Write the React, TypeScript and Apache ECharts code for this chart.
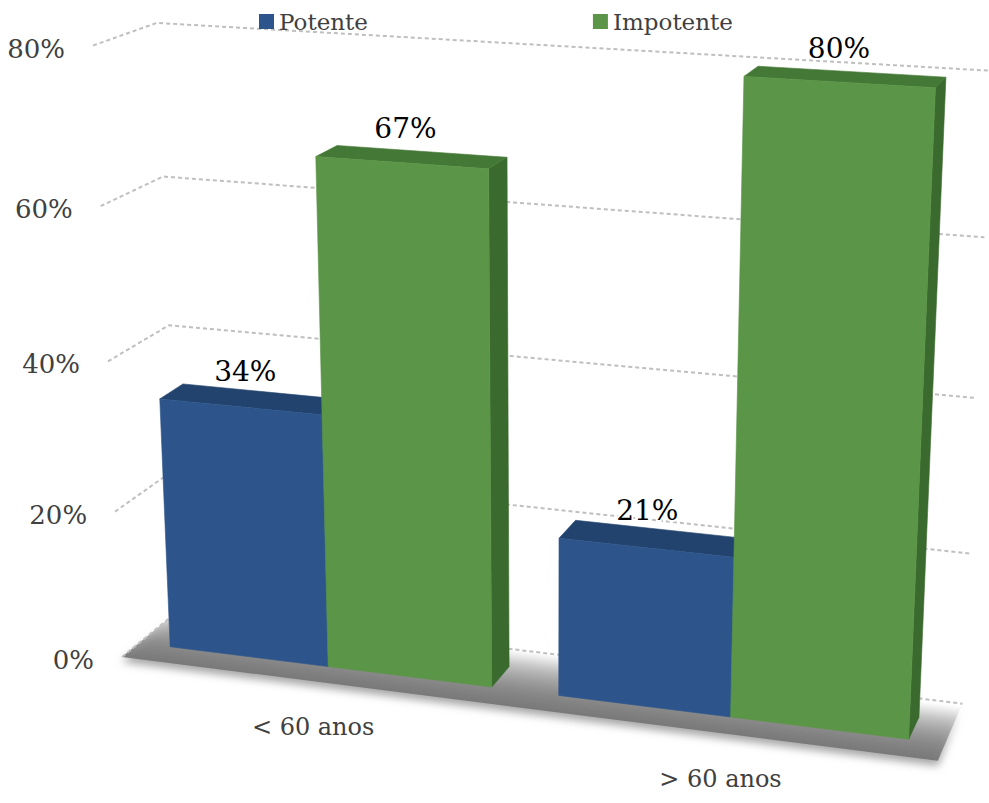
import React, { useEffect, useRef } from 'react';
import * as echarts from 'echarts';

// ---- data ----
const categories = ['< 60 anos', '> 60 anos'];
const seriesNames = ['Potente', 'Impotente'];
const potenteValues = [34, 21];
const impotenteValues = [67, 80];
const valueTicks = [0, 20, 40, 60, 80];

const WIDTH = 989;
const HEIGHT = 803;
const FONT = 'DejaVu Serif';
const TEXT_GREY = '#404040';

// Hidden cartesian grid: it holds the data scales; its pixel coordinates are
// turned into scene units (categories along X, percent along Y).
const GRID = { left: 0, top: 0, width: 200, height: 400 };
const Y_MAX = valueTicks[valueTicks.length - 1];

// Perspective camera, written as the vanishing points of the three scene axes,
// the image of the scene origin (front-left corner of the floor) and a scale per axis.
const VP_X = [-9000, -502];
const VP_Y = [545, 9600];
const VP_Z = [1458, -439];
const ORIGIN = [122, 657];
const SX = -0.041045; // per category
const SY = -0.0008; // per percent
const SZ = 0.04576; // per depth unit (0 = front of floor, 1 = back wall)

// column geometry in scene units
const BAR_W = 1 / 2.4; // two columns and a 40% gap per category
const Z_FRONT = 0.285;
const Z_BACK = 0.675;

const palettes = [
  { front: '#2D558C', top: '#22436D', side: '#1E3B61' },
  { front: '#5B9547', top: '#447836', side: '#3A6A2E' },
];

function project(X: number, Y: number, Z: number): number[] {
  const ax = SX * X;
  const by = SY * Y;
  const cz = SZ * Z;
  const w = ax + by + cz + 1;
  return [
    (ax * VP_X[0] + by * VP_Y[0] + cz * VP_Z[0] + ORIGIN[0]) / w,
    (ax * VP_X[1] + by * VP_Y[1] + cz * VP_Z[1] + ORIGIN[1]) / w,
  ];
}

function sceneX(api: any, cat: number): number {
  const p = api.coord([cat, 0]);
  return (p[0] - GRID.left) / (GRID.width / categories.length);
}

function sceneY(api: any, cat: number, v: number): number {
  const p = api.coord([cat, v]);
  const p0 = api.coord([cat, 0]);
  return ((p0[1] - p[1]) / GRID.height) * Y_MAX;
}

function floorRenderer(_params: any, _api: any) {
  const n = categories.length;
  const fl = project(0, 0, 0);
  const fr = project(n, 0, 0);
  const pts = [fl, fr, project(n, 0, 1), project(0, 0, 1)];
  // shade runs from the back edge towards the front edge, perpendicular to the front edge
  const back = project(n / 2, 0, 1);
  const dx = fr[0] - fl[0];
  const dy = fr[1] - fl[1];
  const len = Math.hypot(dx, dy);
  const nx = -dy / len;
  const ny = dx / len;
  const dist = (fl[0] - back[0]) * nx + (fl[1] - back[1]) * ny;
  const end = [back[0] + nx * dist, back[1] + ny * dist];
  const fill = new echarts.graphic.LinearGradient(
    back[0],
    back[1],
    end[0],
    end[1],
    [
      { offset: 0, color: 'rgba(128,128,128,0)' },
      { offset: 0.25, color: 'rgba(128,128,128,0.32)' },
      { offset: 0.7, color: 'rgba(125,125,125,0.78)' },
      { offset: 1, color: 'rgba(118,118,118,0.95)' },
    ],
    true
  );
  return {
    type: 'polygon',
    shape: { points: pts },
    style: {
      fill,
      shadowBlur: 9,
      shadowOffsetY: 5,
      shadowColor: 'rgba(120,120,120,0.75)',
    },
  };
}

function textStyle(text: string, size: number, color: string, align: string) {
  return {
    text,
    fill: color,
    fontFamily: FONT,
    fontSize: size,
    align,
    verticalAlign: 'middle',
  };
}

function gridRenderer(_params: any, api: any) {
  const n = categories.length;
  const v = api.value(1);
  const y = sceneY(api, 0, v);
  const a = project(0, y, 0);
  const b = project(0, y, 1);
  const c = project(n, y, 1);
  return {
    type: 'group',
    children: [
      {
        type: 'polyline',
        shape: { points: [a, b, c] },
        style: { stroke: '#BFBFBF', lineWidth: 2, lineDash: [4, 3], fill: null },
      },
      {
        type: 'text',
        x: a[0] - 28,
        y: a[1] + 3,
        style: textStyle(`${v}%`, 26, TEXT_GREY, 'right'),
      },
    ],
  };
}

function categoryRenderer(_params: any, api: any) {
  const i = api.value(0);
  const p = project(sceneX(api, i), 0, 0);
  return {
    type: 'text',
    x: p[0],
    y: p[1] + 46,
    style: textStyle(categories[i], 24, TEXT_GREY, 'center'),
  };
}

function barRenderer(seriesIndex: number) {
  const pal = palettes[seriesIndex];
  return (_params: any, api: any) => {
    const cat = api.value(0);
    const val = api.value(1);
    const xc = sceneX(api, cat);
    const h = sceneY(api, cat, val);
    const x0 = xc - BAR_W + seriesIndex * BAR_W;
    const x1 = x0 + BAR_W;
    const face = (pts: number[][], fill: string) => ({
      type: 'polygon',
      shape: { points: pts },
      style: { fill, stroke: fill, lineWidth: 0.6, lineJoin: 'round' },
    });
    const front = [project(x0, 0, Z_FRONT), project(x1, 0, Z_FRONT), project(x1, h, Z_FRONT), project(x0, h, Z_FRONT)];
    const top = [project(x0, h, Z_FRONT), project(x1, h, Z_FRONT), project(x1, h, Z_BACK), project(x0, h, Z_BACK)];
    const side = [project(x1, 0, Z_FRONT), project(x1, 0, Z_BACK), project(x1, h, Z_BACK), project(x1, h, Z_FRONT)];
    const lp = project((x0 + x1) / 2, h, (Z_FRONT + Z_BACK) / 2);
    return {
      type: 'group',
      children: [
        face(side, pal.side),
        face(top, pal.top),
        face(front, pal.front),
        {
          type: 'text',
          x: lp[0] - 6,
          y: lp[1] - 28,
          z2: 10,
          style: {
            ...textStyle(`${val}%`, 28, '#000000', 'center'),
            stroke: '#ffffff',
            lineWidth: 4,
          },
        },
      ],
    };
  };
}

export default function App() {
  const ref = useRef<HTMLDivElement>(null);

  useEffect(() => {
    document.body.style.margin = '0';
    document.body.style.overflow = 'hidden';
    if (!ref.current) return;
    const chart = echarts.init(ref.current, null, { renderer: 'svg' });
    const valueSeries = [potenteValues, impotenteValues];
    chart.setOption({
      animation: false,
      backgroundColor: '#ffffff',
      textStyle: { fontFamily: FONT },
      legend: {
        data: seriesNames,
        left: 254,
        top: 5,
        icon: 'rect',
        itemWidth: 15,
        itemHeight: 15,
        itemGap: 225,
        textStyle: { fontFamily: FONT, fontSize: 23, color: TEXT_GREY },
      },
      grid: { ...GRID, show: false },
      xAxis: { type: 'category', data: categories, show: false },
      yAxis: { type: 'value', min: 0, max: Y_MAX, interval: 20, show: false },
      series: [
        {
          type: 'custom',
          name: 'floor',
          data: [[0, 0]],
          renderItem: floorRenderer,
          clip: false,
          silent: true,
          z: 1,
        },
        {
          type: 'custom',
          name: 'gridlines',
          data: valueTicks.map((v) => [0, v]),
          renderItem: gridRenderer,
          clip: false,
          silent: true,
          z: 2,
        },
        {
          type: 'custom',
          name: 'categoryLabels',
          data: categories.map((_, i) => [i, 0]),
          renderItem: categoryRenderer,
          clip: false,
          silent: true,
          z: 2,
        },
        ...seriesNames.map((name, s) => ({
          type: 'custom',
          name,
          data: valueSeries[s].map((v, i) => [i, v]),
          renderItem: barRenderer(s),
          itemStyle: { color: palettes[s].front },
          clip: false,
          z: 3,
        })),
      ],
    });
    return () => chart.dispose();
  }, []);

  return <div ref={ref} style={{ width: WIDTH, height: HEIGHT }} />;
}
